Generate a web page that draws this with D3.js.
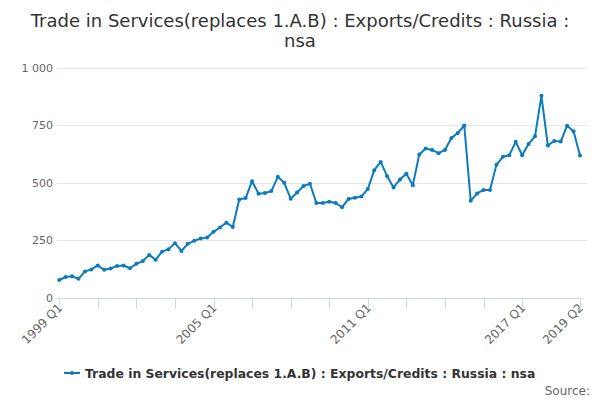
<!DOCTYPE html>
<html>
<head>
<meta charset="utf-8">
<script src="https://cdn.jsdelivr.net/npm/d3@7"></script>
<style>
  html, body { margin: 0; padding: 0; background: #fff; }
  svg { display: block; font-family: "DejaVu Sans", Verdana, sans-serif; }
</style>
</head>
<body>
<svg id="chart" width="600" height="400"></svg>
<script>
const titleLines = ["Trade in Services(replaces 1.A.B) : Exports/Credits : Russia :", "nsa"];
const seriesName = "Trade in Services(replaces 1.A.B) : Exports/Credits : Russia : nsa";
const startYear = 1999;
const quarterCount = 82;
const categories = [];
for (let i = 0; i < quarterCount; i++) {
  categories.push((startYear + Math.floor(i / 4)) + " Q" + (i % 4 + 1));
}
const values = [
  77, 90, 93, 82, 114, 123, 140, 121, 127, 138, 140, 128, 147, 159, 186, 165,
  200, 211, 237, 203, 234, 247, 257, 261, 286, 305, 326, 307, 427, 433, 506, 452,
  455, 463, 525, 499, 430, 457, 485, 495, 411, 411, 417, 411, 393, 429, 434, 440,
  472, 554, 590, 528, 479, 514, 538, 489, 622, 648, 642, 628, 642, 694, 716, 748,
  421, 453, 468, 468, 577, 612, 619, 677, 619, 668, 701, 877, 661, 681, 678, 747,
  723, 618
];
const yTicks = [0, 250, 500, 750, 1000];
const yTickLabels = ["0", "250", "500", "750", "1 000"];
const xLabelCats = ["1999 Q1", "2005 Q1", "2011 Q1", "2017 Q1", "2019 Q2"];
const xTickCats = categories.filter((c, i) => i % 6 === 0 && i <= 72).concat(["2019 Q2"]);

const color = "#0b7bc0";
const svg = d3.select("#chart");

const x = d3.scalePoint().domain(categories).range([59.2, 580]);
const y = d3.scaleLinear().domain([0, 1000]).range([297.7, 67.5]);
const plotLeft = 57, plotRight = 587;

// title
svg.append("g").selectAll("text").data(titleLines).join("text")
  .attr("x", 300).attr("y", (d, i) => 27 + i * 20)
  .attr("text-anchor", "middle")
  .attr("font-size", 18).attr("fill", "#333")
  .text(d => d);

// gridlines
svg.append("g").selectAll("line").data(yTicks.filter(t => t > 0)).join("line")
  .attr("x1", plotLeft).attr("x2", plotRight)
  .attr("y1", d => Math.round(y(d)) + 0.5).attr("y2", d => Math.round(y(d)) + 0.5)
  .attr("stroke", "#e6e6e6").attr("stroke-width", 1);

// y labels
svg.append("g").selectAll("text").data(yTicks).join("text")
  .attr("x", 53).attr("y", d => y(d) + 4)
  .attr("text-anchor", "end").attr("font-size", 11).attr("fill", "#666")
  .text((d, i) => yTickLabels[i]);

// x axis line
const axisY = Math.round(y(0)) + 0.5;
svg.append("line")
  .attr("x1", plotLeft).attr("x2", 583).attr("y1", axisY).attr("y2", axisY)
  .attr("stroke", "#ccd6eb").attr("stroke-width", 1);

// x ticks
svg.append("g").selectAll("line").data(xTickCats).join("line")
  .attr("x1", d => Math.round(x(d)) + 0.5).attr("x2", d => Math.round(x(d)) + 0.5)
  .attr("y1", axisY).attr("y2", axisY + 10)
  .attr("stroke", "#ccd6eb").attr("stroke-width", 1);

// x labels
svg.append("g").selectAll("text").data(xLabelCats).join("text")
  .attr("transform", d => `translate(${x(d) + 4},${axisY + 10}) rotate(-45)`)
  .attr("text-anchor", "end").attr("font-size", 12).attr("fill", "#666")
  .text(d => d);

// line
const line = d3.line().x((d, i) => x(categories[i])).y(d => y(d));
svg.append("path").datum(values)
  .attr("d", line).attr("fill", "none")
  .attr("stroke", color).attr("stroke-width", 2)
  .attr("stroke-linejoin", "round").attr("stroke-linecap", "round");

svg.append("g").selectAll("circle").data(values).join("circle")
  .attr("cx", (d, i) => x(categories[i])).attr("cy", d => y(d))
  .attr("r", 2).attr("fill", color);

// legend
const lg = svg.append("g");
lg.append("line").attr("x1", 64).attr("x2", 80).attr("y1", 373).attr("y2", 373)
  .attr("stroke", color).attr("stroke-width", 2);
lg.append("circle").attr("cx", 72).attr("cy", 373).attr("r", 2).attr("fill", color);
lg.append("text").attr("x", 85).attr("y", 377.5)
  .attr("font-size", 12.4).attr("font-weight", "bold").attr("fill", "#333")
  .text(seriesName);

// source
svg.append("text").attr("x", 590).attr("y", 395)
  .attr("text-anchor", "end").attr("font-size", 12).attr("fill", "#666")
  .text("Source:");
</script>
</body>
</html>
